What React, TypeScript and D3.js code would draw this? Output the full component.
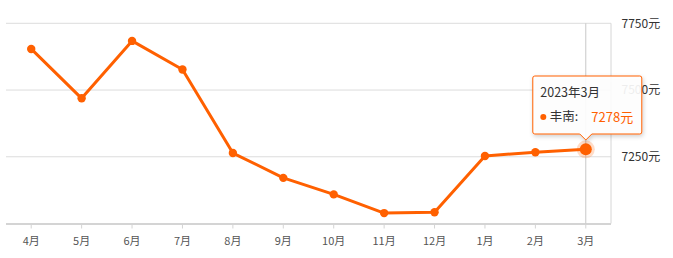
import React from "react";
import * as d3 from "d3";

const months = ["4月", "5月", "6月", "7月", "8月", "9月", "10月", "11月", "12月", "1月", "2月", "3月"];
const prices = [7654, 7469, 7684, 7577, 7264, 7171, 7109, 7039, 7042, 7253, 7267, 7278];
const yTicks = [7250, 7500, 7750];
const seriesName = "丰南";
const activeLabel = "2023年3月";
const activeIndex = 11;

const W = 673;
const H = 258;
const left = 6;
const right = 611;
const top = 23.3;
const bottom = 223.5;
const color = "#ff6000";
const font = "'Noto Sans CJK SC', 'Microsoft YaHei', sans-serif";

export default function App() {
  const x = d3.scaleBand<string>().domain(months).range([left, right]);
  const y = d3.scaleLinear().domain([7000, 7750]).range([bottom, top]);
  const cx = (m: string) => (x(m) as number) + x.bandwidth() / 2;

  const line = d3
    .line<number>()
    .x((_, i) => cx(months[i]))
    .y((d) => y(d));

  const ax = cx(months[activeIndex]);
  const ay = y(prices[activeIndex]);

  // tooltip box geometry
  const tw = 109;
  const th = 58;
  const tx = ax - 53;
  const ty = 76;
  const arrowTip = ty + th + 6;

  return (
    <svg
      width={W}
      height={H}
      style={{ position: "absolute", left: 0, top: 0, fontFamily: font }}
    >
      <defs>
        <filter id="tipShadow" x="-20%" y="-20%" width="140%" height="150%">
          <feDropShadow dx="1" dy="2" stdDeviation="2" floodColor="#000" floodOpacity="0.2" />
        </filter>
      </defs>
      <rect width={W} height={H} fill="#fff" />

      {/* horizontal grid */}
      {yTicks.map((t) => (
        <line key={t} x1={left} x2={right} y1={y(t)} y2={y(t)} stroke="#dcdcdc" strokeWidth={1} />
      ))}
      {/* right axis line */}
      <line x1={right} x2={right} y1={top} y2={bottom} stroke="#d6d6d6" strokeWidth={1} />
      {/* y labels */}
      {yTicks.map((t) => (
        <text key={t} x={621.5} y={y(t)} dy="0.35em" fontSize={12} fill="#333">
          {t}元
        </text>
      ))}

      {/* x axis */}
      <line x1={left} x2={right} y1={bottom + 0.5} y2={bottom + 0.5} stroke="#d4d4d4" strokeWidth={2} />
      {months.map((m) => (
        <g key={m}>
          <line x1={cx(m)} x2={cx(m)} y1={bottom + 1} y2={bottom + 5} stroke="#d4d4d4" strokeWidth={1} />
          <text x={cx(m)} y={241} dy="0.35em" textAnchor="middle" fontSize={11} fill="#555">
            {m}
          </text>
        </g>
      ))}

      {/* axis pointer */}
      <line x1={ax} x2={ax} y1={top} y2={bottom} stroke="#c8c8c8" strokeWidth={1} />

      {/* series */}
      <path d={line(prices) || ""} fill="none" stroke={color} strokeWidth={3} strokeLinejoin="round" />
      {prices.map((p, i) =>
        i === activeIndex ? null : <circle key={i} cx={cx(months[i])} cy={y(p)} r={4.2} fill={color} />
      )}
      <circle cx={ax} cy={ay} r={9} fill={color} opacity={0.22} />
      <circle cx={ax} cy={ay} r={6} fill={color} />

      {/* tooltip */}
      <g filter="url(#tipShadow)">
        <path
          d={`M${tx + 2},${ty} H${tx + tw - 2} Q${tx + tw},${ty} ${tx + tw},${ty + 2} V${ty + th - 2} Q${tx + tw},${ty + th} ${tx + tw - 2},${ty + th} H${ax + 6} L${ax},${arrowTip} L${ax - 6},${ty + th} H${tx + 2} Q${tx},${ty + th} ${tx},${ty + th - 2} V${ty + 2} Q${tx},${ty} ${tx + 2},${ty} Z`}
          fill="rgba(255,255,255,0.9)"
          stroke={color}
          strokeWidth={1}
        />
      </g>
      <text x={tx + 7.5} y={ty + 17} dy="0.35em" fontSize={12.5} fill="#333">
        {activeLabel}
      </text>
      <circle cx={tx + 10.5} cy={ty + 41} r={3} fill={color} />
      <text x={tx + 17} y={ty + 41} dy="0.35em" fontSize={12.5} fill="#333">
        {seriesName}:
      </text>
      <text x={tx + 58.5} y={ty + 41} dy="0.35em" fontSize={13} fill={color}>
        {prices[activeIndex]}元
      </text>
    </svg>
  );
}
